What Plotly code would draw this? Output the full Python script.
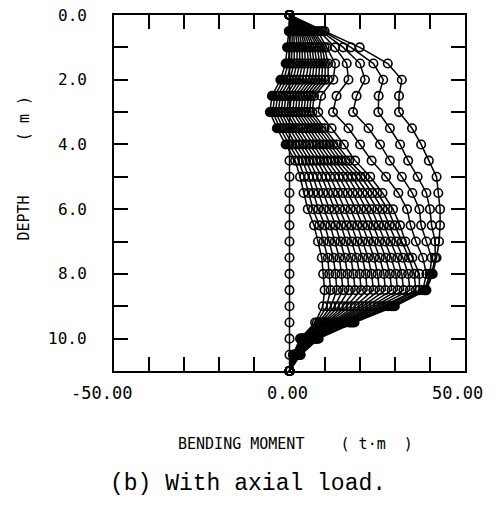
import plotly.graph_objects as go

# ---------------- data ----------------
depth_m = [0.0, 0.5, 1.0, 1.5, 2.0, 2.5, 3.0, 3.5, 4.0, 4.5, 5.0, 5.5,
           6.0, 6.5, 7.0, 7.5, 8.0, 8.5, 9.0, 9.5, 10.0, 10.5, 11.0]

m_z = [0, 0, 0, 0, 0, 0, 0, 0, 0, 0, 0, 0, 0, 0, 0, 0, 0, 0, 0, 0, 0, 0, 0]

m_d01 = [0, -0.2, -0.7, -1.1, -2.6, -5.0, -5.6, -3.6, -1.1, 1.6, 3.0, 4.0, 5.2, 7.0, 8.1, 9.2, 9.6, 10.0, 9.5, 7.3, 3.0, 1.0, 0]
m_d02 = [0, 0.3, 0.0, -0.3, -1.7, -4.2, -4.8, -2.7, -0.1, 2.6, 4.2, 5.4, 6.7, 8.5, 9.7, 10.9, 11.3, 11.7, 10.6, 7.8, 3.3, 1.1, 0]
m_d03 = [0, 0.8, 0.7, 0.5, -0.8, -3.4, -4.0, -1.8, 0.8, 3.7, 5.5, 6.8, 8.2, 10.1, 11.3, 12.5, 13.1, 13.5, 11.8, 8.4, 3.5, 1.2, 0]
m_d04 = [0, 1.2, 1.4, 1.3, 0.1, -2.6, -3.2, -0.9, 1.8, 4.7, 6.7, 8.2, 9.8, 11.6, 12.9, 14.2, 14.8, 15.2, 12.9, 8.9, 3.8, 1.3, 0]
m_d05 = [0, 1.7, 2.2, 2.1, 1.0, -1.8, -2.4, 0.0, 2.8, 5.7, 7.9, 9.6, 11.3, 13.1, 14.5, 15.8, 16.5, 16.9, 14.0, 9.5, 4.0, 1.4, 0]
m_d06 = [0, 2.2, 2.9, 2.9, 1.9, -1.0, -1.6, 0.9, 3.8, 6.7, 9.2, 11.0, 12.8, 14.7, 16.1, 17.5, 18.2, 18.7, 15.2, 10.0, 4.3, 1.5, 0]
m_d07 = [0, 2.7, 3.6, 3.7, 2.8, -0.2, -0.8, 1.8, 4.7, 7.8, 10.4, 12.4, 14.3, 16.2, 17.7, 19.1, 20.0, 20.4, 16.3, 10.6, 4.5, 1.6, 0]
m_d08 = [0, 3.2, 4.3, 4.5, 3.7, 0.6, 0.0, 2.7, 5.7, 8.8, 11.6, 13.8, 15.8, 17.7, 19.3, 20.8, 21.7, 22.1, 17.4, 11.1, 4.8, 1.7, 0]
m_d09 = [0, 3.6, 5.0, 5.4, 4.7, 1.4, 0.9, 3.7, 6.7, 9.8, 12.9, 15.2, 17.4, 19.3, 20.8, 22.4, 23.4, 23.9, 18.6, 11.7, 5.0, 1.7, 0]
m_d10 = [0, 4.1, 5.7, 6.2, 5.6, 2.2, 1.7, 4.6, 7.7, 10.8, 14.1, 16.6, 18.9, 20.8, 22.4, 24.1, 25.1, 25.6, 19.7, 12.2, 5.3, 1.8, 0]
m_d11 = [0, 4.6, 6.4, 7.0, 6.5, 3.0, 2.5, 5.5, 8.6, 11.9, 15.3, 18.0, 20.4, 22.3, 24.0, 25.7, 26.9, 27.3, 20.8, 12.8, 5.5, 1.9, 0]
m_d12 = [0, 5.1, 7.1, 7.8, 7.4, 3.8, 3.3, 6.4, 9.6, 12.9, 16.6, 19.4, 21.9, 23.9, 25.6, 27.4, 28.6, 29.1, 21.9, 13.3, 5.8, 2.0, 0]
m_d13 = [0, 5.6, 7.9, 8.6, 8.3, 4.6, 4.1, 7.3, 10.6, 13.9, 17.8, 20.8, 23.4, 25.4, 27.2, 29.0, 30.3, 30.8, 23.1, 13.9, 6.0, 2.1, 0]
m_d14 = [0, 6.0, 8.6, 9.4, 9.2, 5.4, 4.9, 8.2, 11.5, 14.9, 19.0, 22.2, 25.0, 26.9, 28.8, 30.7, 32.0, 32.5, 24.2, 14.4, 6.3, 2.2, 0]
m_d15 = [0, 6.5, 9.3, 10.2, 10.1, 6.2, 5.7, 9.1, 12.5, 16.0, 20.3, 23.6, 26.5, 28.5, 30.4, 32.3, 33.8, 34.3, 25.3, 15.0, 6.5, 2.3, 0]
m_d16 = [0, 7.0, 10.0, 11.0, 11.0, 7.0, 6.5, 10.0, 13.5, 17.0, 21.5, 25.0, 28.0, 30.0, 32.0, 34.0, 35.5, 36.0, 26.5, 15.5, 6.8, 2.4, 0]

m_s1 = [0, 8.0, 10.6, 13.0, 12.5, 9.0, 8.2, 12.0, 15.5, 18.7, 23.0, 26.5, 29.5, 31.5, 33.0, 35.0, 37.0, 37.0, 27.0, 16.0, 7.0, 2.5, 0]
m_s2 = [0, 8.5, 13.0, 16.3, 16.8, 13.4, 12.4, 16.8, 20.1, 23.4, 27.5, 31.0, 33.5, 34.5, 36.0, 38.0, 39.0, 38.0, 28.0, 17.0, 7.3, 2.7, 0]
m_s3 = [0, 9.0, 15.3, 20.1, 21.5, 19.1, 18.1, 22.5, 25.8, 28.6, 32.0, 35.0, 37.0, 37.5, 39.0, 40.5, 40.0, 38.5, 29.0, 17.5, 7.6, 2.9, 0]
m_s4 = [0, 9.5, 17.5, 23.9, 26.7, 25.4, 25.3, 28.6, 31.5, 33.8, 36.5, 39.0, 40.0, 40.5, 41.5, 41.5, 40.5, 38.8, 29.5, 18.0, 8.0, 3.0, 0]
m_s5 = [0, 10.0, 20.0, 28.0, 32.0, 31.2, 31.2, 34.9, 37.5, 39.7, 41.9, 42.4, 42.9, 42.9, 42.6, 41.9, 40.8, 39.0, 30.0, 18.5, 8.3, 3.2, 0]

x_tick_values = [-50, 0, 50]
x_tick_labels = ["-50.00", "0.00", "50.00"]
y_tick_values = [0, 2, 4, 6, 8, 10]
y_tick_labels = ["0.0", "2.0", "4.0", "6.0", "8.0", "10.0"]

x_title = "BENDING MOMENT\u00a0\u00a0\u00a0\u00a0(\u00a0t\u00b7m\u00a0\u00a0)"
y_title = "DEPTH\u00a0\u00a0\u00a0\u00a0\u00a0\u00a0(\u00a0m\u00a0)"
caption = "(b) With axial load."

# ---------------- figure ----------------
curves = [m_z, m_d01, m_d02, m_d03, m_d04, m_d05, m_d06, m_d07, m_d08,
          m_d09, m_d10, m_d11, m_d12, m_d13, m_d14, m_d15, m_d16,
          m_s1, m_s2, m_s3, m_s4, m_s5]

# which points are drawn as solid dots (heavily overlapped in the original)
filled_points = {1: range(1, 9), 19: range(17, 22), 20: range(17, 22), 21: range(16, 22)}

fig = go.Figure()
n = len(depth_m)
for i, vals in enumerate(curves):
    fill_idx = set(filled_points.get(i, []))
    symbols = ["circle" if j in fill_idx else "circle-open" for j in range(n)]
    fig.add_trace(go.Scatter(
        x=vals, y=depth_m, mode="lines+markers",
        line=dict(color="black", width=1.5),
        marker=dict(symbol=symbols, size=8.5, color="black",
                    line=dict(color="black", width=1.6)),
        cliponaxis=False, showlegend=False, hoverinfo="skip"))

axis_common = dict(showline=True, linecolor="black", linewidth=1.7,
                   mirror="ticks", ticks="inside", ticklen=14, tickwidth=1.5,
                   tickcolor="black", showgrid=False, zeroline=False,
                   showticklabels=False)

fig.update_layout(
    width=497, height=506,
    margin=dict(l=114, r=32, t=15, b=135),
    paper_bgcolor="white", plot_bgcolor="white",
    xaxis=dict(range=[-50, 50], tick0=-50, dtick=10, **axis_common),
    yaxis=dict(range=[11, 0], tick0=0, dtick=1, **axis_common),
)

mono = "DejaVu Sans Mono"
ann = []
for v, t in zip(x_tick_values, x_tick_labels):
    ann.append(dict(x=v, y=0, xref="x", yref="paper", text=t, showarrow=False,
                    xanchor="right", yanchor="middle", xshift=20, yshift=-22,
                    font=dict(family=mono, size=17, color="black")))
for v, t in zip(y_tick_values, y_tick_labels):
    ann.append(dict(x=0, y=v, xref="paper", yref="y", text=t, showarrow=False,
                    xanchor="right", yanchor="middle", xshift=-25,
                    font=dict(family=mono, size=16, color="black")))
ann.append(dict(x=(295 - 114) / 351, y=(371 - 444) / 356, xref="paper", yref="paper",
                text=x_title, showarrow=False, xanchor="center", yanchor="middle",
                font=dict(family=mono, size=15, color="black")))
ann.append(dict(x=(23.5 - 114) / 351, y=(371 - 168) / 356, xref="paper", yref="paper",
                text=y_title, showarrow=False, xanchor="center", yanchor="middle",
                textangle=-90, font=dict(family=mono, size=15, color="black")))
ann.append(dict(x=(248 - 114) / 351, y=(371 - 484) / 356, xref="paper", yref="paper",
                text=caption, showarrow=False, xanchor="center", yanchor="middle",
                font=dict(family="Liberation Mono", size=23, color="black")))
fig.update_layout(annotations=ann)

fig.write_html("out.html")
